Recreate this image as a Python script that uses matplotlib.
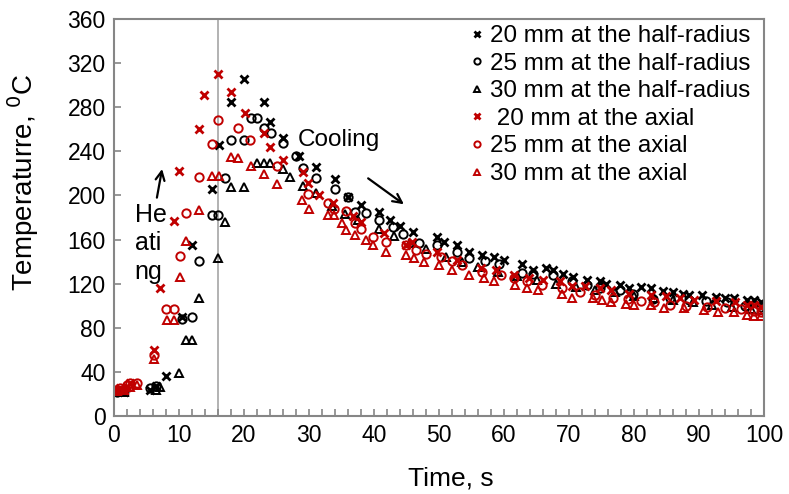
import matplotlib
matplotlib.use("Agg")
import matplotlib.pyplot as plt
from matplotlib.ticker import MultipleLocator

plt.rcParams['font.family'] = ['Liberation Sans', 'DejaVu Sans']

RED = '#C00000'

# 20 mm at the half-radius
hr20_t = [0.5, 1.5, 5.5, 6.5, 8.0, 10.5, 12.0, 15.0, 16.2, 18.0, 20.0, 23.0, 24.0, 26.0, 28.5, 31.0,
          34.0, 36.0, 38.0, 40.8, 42.5, 44.0, 46.0, 49.7, 50.8, 52.8, 54.6, 56.6, 58.5, 60.0, 62.7,
          64.5, 66.5, 67.6, 69.0, 70.6, 72.7, 74.7, 75.7, 77.8, 79.3, 81.0, 82.6, 84.4, 86.0, 87.5,
          88.5, 90.5, 92.6, 94.0, 95.4, 97.4, 98.4, 99.5]
hr20_T = [23, 22, 24, 27, 36, 90, 155, 206, 246, 285, 306, 285, 267, 252, 236, 226,
          215, 199, 191, 185, 178, 172, 167, 162, 158, 155, 149, 146, 144, 141.5, 138,
          132, 134, 132, 129, 126, 123, 122, 120, 119, 116, 117, 116, 113, 112, 111,
          110, 109.7, 108, 107, 106.7, 105, 105, 103]

# 25 mm at the half-radius
hr25_t = [0.5, 1.5, 5.5, 6.5, 10.5, 12.0, 13.0, 15.0, 16.0, 17.0, 18.0, 20.0, 21.0, 22.0, 23.0,
          24.2, 26.0, 28.0, 29.0, 31.0, 34.0, 36.0, 37.0, 38.8, 40.8, 42.9, 44.5, 46.9, 49.7,
          52.8, 54.6, 57.0, 59.2, 62.7, 64.5, 67.6, 70.4, 72.7, 74.7, 77.8, 79.8, 82.9, 85.5,
          88.5, 91.0, 94.3, 97.0, 99.5]
hr25_T = [22, 23, 25, 27, 88, 90, 141, 182, 182, 216, 250, 250, 270, 270, 261,
          257, 248, 236, 225, 216, 206, 199, 185, 184, 178, 171.5, 165, 156.5, 155,
          149, 143, 141, 138, 130, 129, 128, 122, 119, 116, 114, 111, 106, 107,
          105, 104, 103.7, 100, 99]

# 30 mm at the half-radius
hr30_t = [0.5, 1.5, 6.5, 7.0, 10.0, 11.0, 12.0, 13.0, 16.0, 17.0, 18.0, 20.0, 22.0, 23.0, 24.0,
          26.0, 27.0, 29.0, 31.0, 33.5, 35.5, 37.5, 40.8, 43.0, 45.5, 48.0, 51.0, 53.5, 56.0,
          59.0, 62.0, 65.0, 68.0, 71.0, 74.0, 77.0, 80.0, 83.0, 86.0, 89.0, 92.0, 95.0, 98.0, 99.5]
hr30_T = [22, 22, 24, 26, 39, 69, 69, 107, 143, 176, 208, 208, 229, 229, 229,
          224, 217, 209, 202, 190, 183, 178, 170, 163, 157, 151, 144, 140, 135,
          131, 127, 123, 120, 117, 114, 112, 109, 107, 105, 103, 101, 99, 97, 96]

# 20 mm at the axial
ax20_t = [0.0, 0.5, 1.0, 1.5, 2.0, 2.5, 6.2, 7.0, 9.2, 10.0, 13.1, 13.9, 16.0, 18.0, 20.1, 23.0,
          24.0, 26.0, 29.1, 29.9, 31.5, 33.7, 36.7, 38.0, 41.6, 44.9, 45.9, 49.7, 52.8, 56.4,
          58.8, 61.5, 63.8, 66.0, 68.6, 70.4, 72.5, 74.7, 76.5, 79.3, 82.6, 84.9, 87.0, 89.3,
          92.6, 95.6, 97.4, 98.4, 99.5]
ax20_T = [24, 24, 25, 24, 26, 30, 60, 116, 177, 222, 260, 291, 310, 294, 275, 257,
          244, 232, 221, 211, 200, 193, 181, 176, 165.5, 155, 158, 149, 141.5, 134,
          132, 128, 125, 123, 122, 117.6, 118, 116, 114, 111, 110, 109, 107, 105,
          104, 103, 101, 101, 99]

# 25 mm at the axial
ax25_t = [0.0, 1.0, 2.0, 2.5, 3.5, 6.2, 8.0, 9.2, 10.1, 11.1, 13.0, 15.1, 16.0, 19.1, 20.9, 25.0,
          29.9, 32.9, 33.9, 35.7, 37.0, 38.0, 39.8, 41.9, 44.9, 46.4, 48.0, 50.3, 52.0, 53.6,
          56.6, 59.6, 61.6, 63.5, 65.8, 68.9, 71.7, 74.0, 76.8, 79.0, 81.0, 83.0, 85.5, 88.0,
          91.3, 94.0, 96.5, 98.4, 99.5]
ax25_T = [24, 25, 28, 30, 30, 55, 97, 97, 145, 184, 217, 247, 268, 261, 250, 227,
          201, 193, 188, 186, 175, 170, 162.5, 158, 155, 150.5, 147, 144.5, 141, 137,
          131, 128, 125, 122, 119, 116, 112.8, 110, 106.7, 106, 104, 103, 101, 100,
          99, 98, 97, 95, 94]

# 30 mm at the axial
ax30_t = [0.0, 0.5, 1.5, 2.5, 3.5, 6.2, 8.2, 9.2, 10.1, 11.0, 13.0, 15.0, 16.1, 18.0, 19.1, 21.0,
          23.0, 25.0, 28.9, 30.0, 32.9, 33.9, 35.0, 35.7, 37.0, 38.8, 39.8, 41.9, 44.9, 46.2,
          47.7, 50.0, 52.0, 54.6, 56.9, 58.4, 61.7, 63.5, 65.3, 68.9, 70.4, 73.7, 75.0, 76.5,
          78.8, 80.0, 82.6, 84.6, 87.7, 90.8, 92.9, 95.4, 97.4, 98.4, 99.5]
ax30_T = [24, 23, 24, 26, 28, 52, 87, 87, 126, 159, 187, 218, 218, 235, 234, 227,
          219, 210, 196, 188, 182, 182, 175, 168.5, 164, 159.5, 155, 149, 146, 143,
          140, 137, 132.5, 128, 125, 122, 118.7, 116, 114, 111, 106.7, 106.7, 105, 103.7,
          102, 101, 100.7, 97.7, 97.7, 96, 94, 94, 92, 91, 91]

labels = ['20 mm at the half-radius', '25 mm at the half-radius', '30 mm at the half-radius',
          ' 20 mm at the axial', '25 mm at the axial', '30 mm at the axial']

fig = plt.figure(figsize=(7.89, 4.94), dpi=100)
ax = fig.add_axes([114/789, 1-416/494, (764-114)/789, (416-19)/494])

ms = 5.5
mew = 1.4
ax.plot(hr20_t, hr20_T, ls='none', marker='x', color='black', ms=ms, mew=2.0, label=labels[0])
ax.plot(hr25_t, hr25_T, ls='none', marker='o', mfc='none', mec='black', ms=ms+0.5, mew=mew, label=labels[1])
ax.plot(hr30_t, hr30_T, ls='none', marker='^', mfc='none', mec='black', ms=ms+0.5, mew=mew, label=labels[2])
ax.plot(ax20_t, ax20_T, ls='none', marker='x', color=RED, ms=ms, mew=2.0, label=labels[3])
ax.plot(ax25_t, ax25_T, ls='none', marker='o', mfc='none', mec=RED, ms=ms+0.5, mew=mew, label=labels[4])
ax.plot(ax30_t, ax30_T, ls='none', marker='^', mfc='none', mec=RED, ms=ms+0.5, mew=mew, label=labels[5])

ax.axvline(16, color='#A6A6A6', lw=1.2, zorder=0)

ax.set_xlim(0, 100)
ax.set_ylim(0, 360)
ax.xaxis.set_major_locator(MultipleLocator(10))
ax.xaxis.set_minor_locator(MultipleLocator(2))
ax.yaxis.set_major_locator(MultipleLocator(40))
ax.tick_params(which='both', direction='in', color='#868686', width=1.2, length=5, labelsize=16.5, pad=6)
ax.tick_params(axis='x', which='both', top=False)
ax.tick_params(axis='y', right=False)
for s in ax.spines.values():
    s.set_color('#868686')
    s.set_linewidth(1.5)

ax.set_xlabel('Time, s', fontsize=19)
ax.xaxis.set_label_coords(0.518, -0.128)
ax.set_ylabel('Temperaturre, $^0$C', fontsize=20)
ax.yaxis.set_label_coords(-0.112, 0.59)

leg = ax.legend(loc='upper right', bbox_to_anchor=(1.005, 1.027), frameon=False, fontsize=17.4,
                handlelength=0.5, handletextpad=0.3, labelspacing=0.23, borderaxespad=0.3,
                markerscale=0.75)

ax.text(3.2, 193, 'He\nati\nng', fontsize=18, va='top', ha='left', linespacing=1.22)
ax.annotate('', xy=(7.4, 224), xytext=(6.6, 198),
            arrowprops=dict(arrowstyle='->', color='black', lw=1.6, mutation_scale=16,
                            shrinkA=0, shrinkB=0))
ax.text(28.3, 250, 'Cooling', fontsize=17.5, va='center', ha='left')
ax.annotate('', xy=(44.6, 192.0), xytext=(39.1, 215.5),
            arrowprops=dict(arrowstyle='->', color='black', lw=1.6, mutation_scale=16,
                            shrinkA=0, shrinkB=0))

fig.savefig('out.png', dpi=100)
